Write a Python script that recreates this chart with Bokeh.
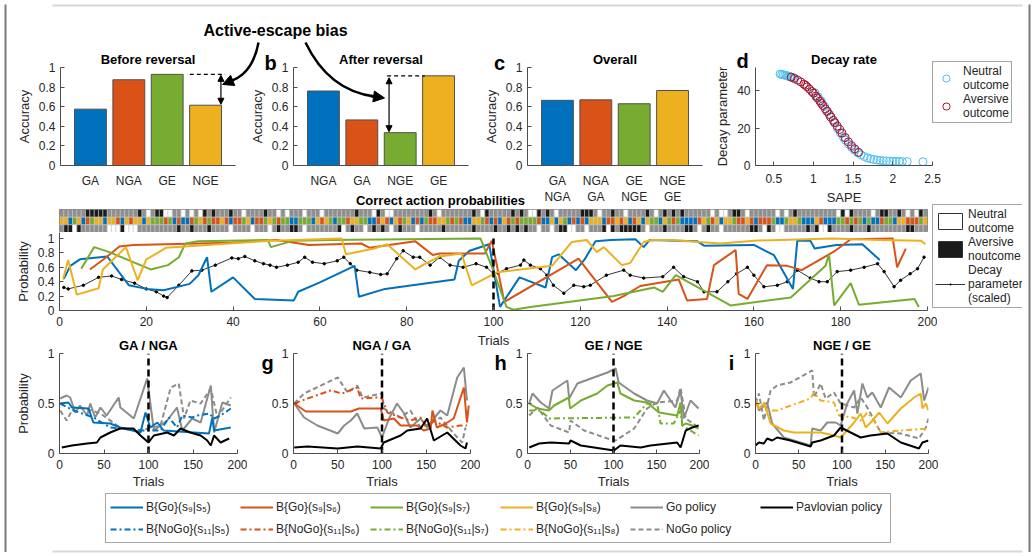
from bokeh.plotting import figure
from bokeh.models import (Range1d, FactorRange, Label, Legend, LegendItem, Arrow, PolyAnnotation,
                          NormalHead, FixedTicker, NumeralTickFormatter, Column)
from bokeh.embed import file_html
from bokeh.resources import INLINE

FONT = "Liberation Sans"
BLUE = "#0072BD"; RED = "#D95319"; YEL = "#EDB120"; GRN = "#77AC30"
LBLUE = "#4DBEEE"; DRED = "#A2142F"; GRAY = "#8c8c8c"
BAR_COLORS = [BLUE, RED, GRN, YEL]

# ---------------- data ----------------
cats_a = ["GA", "NGA", "GE", "NGE"]
acc_a = [0.575, 0.875, 0.93, 0.615]
cats_b = ["NGA", "GA", "NGE", "GE"]
acc_b = [0.76, 0.465, 0.335, 0.915]
cats_c = ["GA\nNGA", "NGA\nGA", "GE\nNGE", "NGE\nGE"]
acc_c = [0.665, 0.67, 0.63, 0.765]

sape_neutral = [0.58, 0.60, 0.62, 0.64, 0.66, 0.68, 0.70, 0.72, 0.74, 0.76, 1.02, 1.06, 1.10, 1.14,
                1.18, 1.22, 1.26, 1.30, 1.34, 1.38, 1.40, 1.44, 1.48, 1.52, 1.56, 1.60, 1.64, 1.68,
                1.72, 1.76, 1.80, 1.84, 1.88, 1.92, 1.96, 2.00, 2.04, 2.08, 2.12, 2.18, 2.38]
decay_neutral = [48.8, 48.6, 48.4, 48.2, 48.0, 47.7, 47.4, 47.1, 46.8, 46.4, 38.8, 36.6, 34.3, 31.6,
                 28.8, 25.8, 22.9, 20.0, 17.3, 14.8, 13.6, 11.5, 9.7, 8.1, 6.8, 5.7, 4.8, 4.1,
                 3.6, 3.2, 2.9, 2.7, 2.5, 2.4, 2.3, 2.2, 2.2, 2.1, 2.1, 2.1, 2.0]
sape_aversive = [0.72, 0.76, 0.80, 0.84, 0.88, 0.90, 0.92, 0.95, 0.98, 1.00, 1.03, 1.05, 1.08, 1.10,
                 1.12, 1.15, 1.17, 1.20, 1.22, 1.25, 1.27, 1.30, 1.33, 1.36, 1.40, 1.44, 1.48, 1.52, 1.57]
decay_aversive = [47.2, 46.5, 45.6, 44.6, 43.4, 42.8, 42.0, 40.8, 39.5, 38.6, 37.0, 36.0, 34.4, 33.2,
                  32.0, 30.2, 29.0, 27.2, 25.9, 24.1, 22.9, 21.0, 19.2, 17.3, 14.9, 12.6, 10.6, 8.9, 7.0]

reversal_trial = 100

# outcome / state strip (top: outcome, middle: state, bottom: outcome)
strip_top = ("ggggggkkkk" "kgggggggkg" "wgkkwwggwg" "wgwkgkgggk" "ggwggggkgg"
             "wgwgggwggg" "wgggggggkg" "ggwkgwwggg" "gggggkgwgg" "gggggkgwkg"
             "ggggkgkgww" "kgkgwggggg" "kkkgwggkgg" "wggggkgwgk" "gkgkgggggg"
             "wgwwgkkgwg" "gggggwgwgk" "gggggggggw" "kwkggggwgk" "kggkgwgwkg")
strip_mid = ("yybgybrgyy" "byyrbyryyb" "ygggrgbrbb" "rgyrgrryrb" "rrgybrrgyg"
             "rggbbgggby" "rygbggryyg" "gbbryrbyrg" "ybrbgrryyg" "rgrbbyygrb"
             "rbyrgrgggg" "rbbybygbrb" "rbyyybrryr" "ybrybyggby" "grgbbbbryg"
             "rybyygrryr" "brrrgbbgyy" "gbbbyrbbbg" "grgrgbgbbr" "ggbyyrrrgy")
strip_bot = ("gkkwkggggg" "gwwwkwwwgg" "gggggggkgg" "kgggkggggw" "ggggwgggwg"
             "kggkkgwggg" "ggggkwgkgg" "wgkgkgwgkg" "ggwgggggkg" "gggggkgggg"
             "kggkgkgkgg" "wggwgkkwwg" "gwgggkwkgk" "kkkkgwgggk" "ggggkkgwgk"
             "ggwggggggk" "kgwkgwwggg" "ggkgkwwkgg" "ggkgggkggg" "gggggkkggg")

e_go_s5 = [(1, 0.44), (2.5, 0.62), (4.7, 0.71), (11, 0.75), (16, 0.35), (20, 0.30), (24, 0.28),
           (30, 0.37), (32, 0.49), (34, 0.74), (35, 0.26), (40, 0.46), (45, 0.16), (54, 0.14),
           (55, 0.26), (60, 0.39), (68, 0.62), (69, 0.19), (75, 0.30), (91, 0.43), (92, 0.69),
           (94.5, 0.83), (99, 0.92), (101.5, 0.05), (106, 0.46), (112, 0.32), (113.5, 0.74),
           (115, 0.78), (119, 0.56), (121, 0.71), (123.5, 0.96), (127, 0.98), (132.7, 0.99),
           (134.6, 0.88), (136, 0.98), (147, 0.96), (148.5, 0.90), (160, 0.91), (164.6, 0.77),
           (169, 0.30), (170, 0.97), (173, 0.97), (174, 0.86), (179, 0.91), (185, 0.92), (189, 0.70)]
e_go_s6 = [(7, 0.57), (10.8, 0.74), (13.8, 0.89), (17, 0.91), (39.6, 0.94), (50, 0.98), (57.5, 0.91),
           (69.5, 0.93), (71.5, 0.87), (82, 0.96), (86, 0.77), (87.6, 0.79), (98, 0.79), (99.6, 0.97),
           (102.5, 0.12), (119.6, 0.72), (127.3, 0.12), (130, 0.20), (133.8, 0.34), (142.7, 0.43),
           (144.6, 0.14), (149.2, 0.16), (150.8, 0.63), (155.8, 0.84), (156.5, 0.23), (158.5, 0.16),
           (163, 0.63), (167.7, 0.62), (171, 0.56), (178.5, 0.82), (182.3, 0.99), (192, 1.0),
           (193, 0.60), (195, 0.86)]
e_go_s7 = [(5, 0.58), (8, 0.88), (11.5, 0.81), (21, 0.57), (25, 0.63), (27.5, 0.74), (29, 0.93),
           (32, 0.96), (48, 0.98), (48.7, 0.88), (54, 0.97), (62.5, 0.98), (97, 1.0), (99.8, 0.58),
           (103, 0.05), (104.6, 0.01), (108.5, 0.05), (127.7, 0.20), (137, 0.32), (139, 0.26),
           (142, 0.49), (154.6, 0.07), (168.5, 0.18), (176.5, 0.62), (177.3, 0.78), (178.5, 0.07),
           (182.3, 0.38), (184.2, 0.08), (197, 0.16), (198, 0.05)]
e_go_s8 = [(0.8, 0.43), (2, 0.70), (4, 0.22), (9, 0.31), (10, 0.57), (15.3, 0.88), (18, 0.42),
           (20, 0.71), (22.6, 0.80), (24.5, 0.87), (49, 0.97), (65, 1.0), (66, 0.78), (72.5, 0.86),
           (75.5, 0.92), (82, 0.57), (84, 0.64), (87.6, 0.75), (92.6, 0.79), (95, 0.35),
           (100.8, 0.53), (113.5, 0.62), (118, 0.95), (121.5, 0.98), (123.8, 0.81), (125.4, 0.88),
           (129.6, 0.63), (131.5, 0.66), (134.6, 0.95), (136.5, 0.98), (140.8, 0.98), (152.3, 0.93),
           (160, 0.97), (178, 1.0), (189, 0.98), (198.5, 0.97), (199.5, 0.92)]
e_decay = [(1, 0.32), (2, 0.30), (5.5, 0.35), (9, 0.46), (12, 0.48), (14.3, 0.43), (17.3, 0.38),
           (20, 0.30), (22.3, 0.26), (24, 0.20), (24.8, 0.18), (27.5, 0.35), (30.5, 0.55),
           (32.8, 0.56), (35.9, 0.63), (39.7, 0.73), (41.2, 0.72), (42.7, 0.75), (45, 0.69),
           (47, 0.65), (48.5, 0.63), (50, 0.60), (52.5, 0.63), (55, 0.67), (56.5, 0.74), (58.3, 0.67),
           (61, 0.65), (64, 0.69), (65.5, 0.74), (67, 0.65), (68.5, 0.56), (71.5, 0.53), (74, 0.50),
           (75.5, 0.51), (77.7, 0.72), (79.2, 0.83), (81.5, 0.74), (83, 0.74), (85.4, 0.63),
           (87.6, 0.74), (90, 0.63), (93, 0.60), (96, 0.65), (98.4, 0.60), (100, 0.51), (101, 0.52),
           (103, 0.58), (106.2, 0.63), (107, 0.70), (108.5, 0.63), (110.8, 0.58), (112.3, 0.49),
           (113.8, 0.35), (116.2, 0.24), (118.5, 0.35), (120.8, 0.33), (122.3, 0.35), (126, 0.49),
           (130, 0.56), (131.5, 0.49), (134.6, 0.45), (139, 0.47), (141.5, 0.60), (143.8, 0.47),
           (147, 0.40), (148.5, 0.26), (151.5, 0.26), (154, 0.40), (156, 0.51), (158.5, 0.60),
           (160, 0.49), (162.3, 0.33), (165.4, 0.35), (167.7, 0.40), (170, 0.56), (173, 0.45),
           (175, 0.40), (176.9, 0.40), (179.2, 0.54), (182.3, 0.56), (185.4, 0.60), (188.5, 0.65),
           (190, 0.54), (192.3, 0.33), (193.8, 0.42), (196, 0.51), (197.7, 0.58), (199.2, 0.74)]

f_pav = [(2.6, 0.06), (14, 0.08), (31, 0.10), (42, 0.11), (46, 0.16), (57, 0.21), (68, 0.25), (83, 0.25),
         (91, 0.18), (100, 0.11), (106, 0.18), (121, 0.21), (128.6, 0.18), (136, 0.25), (147, 0.21),
         (158.6, 0.18), (166, 0.13), (170, 0.08), (173.7, 0.18), (181, 0.11), (190.6, 0.15)]
f_go = [(0.8, 0.50), (10, 0.51), (14, 0.46), (32.7, 0.45), (38, 0.31), (57, 0.30), (68, 0.26), (91, 0.21),
        (96.6, 0.41), (102, 0.26), (110, 0.31), (117, 0.23), (151, 0.21), (168, 0.20), (171.8, 0.36),
        (173.7, 0.23), (192.5, 0.26)]
f_nogo = [(0.8, 0.50), (15.8, 0.43), (38, 0.36), (57, 0.26), (91, 0.23), (113.5, 0.23), (123, 0.36),
          (132, 0.26), (138, 0.38), (149, 0.36), (155, 0.38), (168, 0.40), (173.7, 0.35), (181, 0.38),
          (192.5, 0.45)]
f_gopol = [(0.8, 0.55), (8, 0.58), (12, 0.56), (17.7, 0.41), (23, 0.48), (31, 0.38), (34.6, 0.50),
           (40, 0.36), (46, 0.46), (53, 0.38), (66.5, 0.56), (68.4, 0.46), (83.5, 0.35), (98.5, 0.75),
           (106, 0.23), (121, 0.33), (132, 0.46), (138, 0.23), (149, 0.35), (158.6, 0.31), (170, 0.68),
           (173.7, 0.21), (183, 0.51), (192.5, 0.48)]
f_nogopol = [(0.8, 0.43), (8, 0.33), (16, 0.46), (29, 0.45), (46, 0.40), (68, 0.26), (91, 0.23),
             (113.5, 0.28), (125, 0.66), (134, 0.70), (140, 0.35), (147, 0.53), (158.6, 0.50),
             (170, 0.65), (177.4, 0.36), (192.5, 0.56)]

g_pav = [(0.8, 0.06), (15.8, 0.07), (50, 0.05), (72, 0.07), (98.5, 0.05), (102, 0.11), (121, 0.18),
         (128.6, 0.23), (143.6, 0.25), (151, 0.35), (158.6, 0.13), (173.7, 0.21), (188.7, 0.08),
         (194.4, 0.05), (196, 0.11)]
g_go = [(0.8, 0.50), (14, 0.42), (64.7, 0.42), (74, 0.45), (98.5, 0.45), (102, 0.33), (113.5, 0.35),
        (121, 0.28), (139.8, 0.28), (147, 0.23), (155, 0.25), (157, 0.43), (162, 0.26), (172, 0.30),
        (181, 0.35), (192.5, 0.66), (196, 0.31), (198, 0.48)]
g_nogo = [(0.8, 0.50), (15.8, 0.55), (42, 0.63), (55, 0.60), (72, 0.66), (76, 0.55), (94.7, 0.56),
          (100, 0.55), (106, 0.41), (121, 0.36), (132, 0.33), (143.6, 0.36), (151, 0.26), (158.6, 0.33),
          (173.7, 0.26), (188.7, 0.28), (196, 0.28)]
g_gopol = [(0.8, 0.50), (12, 0.36), (27, 0.28), (50, 0.20), (57.3, 0.28), (64.7, 0.33), (72, 0.40),
           (80, 0.25), (94.7, 0.26), (100, 0.16), (108, 0.35), (117, 0.50), (125, 0.40), (132, 0.26),
           (143.6, 0.35), (151, 0.26), (158.6, 0.35), (166, 0.43), (173.7, 0.38), (185, 0.76),
           (192.5, 0.86), (196, 0.53)]
g_nogopol = [(0.8, 0.50), (12, 0.60), (50, 0.76), (61, 0.61), (72, 0.68), (78.2, 0.56), (100, 0.60),
             (102, 0.45), (121, 0.36), (132, 0.43), (143.6, 0.26), (155, 0.30), (166, 0.36), (181, 0.20),
             (190.6, 0.11), (194.4, 0.26)]

h_pav = [(2, 0.06), (13.5, 0.10), (27, 0.11), (48.4, 0.10), (50, 0.13), (62, 0.08), (100.6, 0.03),
         (108, 0.08), (131.5, 0.06), (143, 0.08), (174, 0.11), (178, 0.06), (184, 0.23), (191.5, 0.26),
         (199, 0.28)]
h_go = [(2, 0.50), (11.6, 0.45), (25, 0.43), (31, 0.48), (48, 0.56), (49.5, 0.45), (62, 0.53), (81, 0.60),
        (93, 0.68), (104.5, 0.71), (108, 0.60), (124, 0.53), (139, 0.51), (152.8, 0.41), (174, 0.38),
        (178, 0.51), (180, 0.28), (184, 0.30), (191.5, 0.28), (199, 0.25)]
h_nogo = [(2, 0.43), (15.5, 0.43), (25, 0.35), (124, 0.36), (139, 0.50), (150.8, 0.50), (154.7, 0.30),
          (170, 0.30), (178, 0.43), (180, 0.28), (199, 0.18)]
h_gopol = [(2, 0.50), (5.8, 0.60), (15.5, 0.51), (25, 0.45), (29, 0.63), (46.4, 0.73), (48.4, 0.55),
           (58, 0.70), (77, 0.76), (93, 0.81), (102.5, 0.85), (106, 0.71), (124, 0.60), (139, 0.53),
           (150.8, 0.50), (158.6, 0.63), (172, 0.46), (178, 0.63), (181.8, 0.35), (189.5, 0.53),
           (199, 0.45)]
h_nogopol = [(2, 0.38), (11.6, 0.46), (27, 0.28), (48.4, 0.21), (50, 0.33), (65.8, 0.23), (93, 0.15),
             (102.5, 0.13), (124, 0.25), (139, 0.45), (150.8, 0.51), (174, 0.53), (178, 0.66),
             (184, 0.35), (199, 0.26)]

i_pav = [(0, 0.08), (3.9, 0.11), (9.7, 0.10), (13.5, 0.15), (19.3, 0.13), (25, 0.16), (40.5, 0.13),
         (63.7, 0.07), (65.6, 0.11), (75.3, 0.13), (90.7, 0.18), (98.5, 0.26), (110, 0.21), (121.6, 0.16),
         (133, 0.18), (152.5, 0.20), (168, 0.11), (189, 0.05), (193, 0.11), (200, 0.13)]
i_go = [(0, 0.50), (3.9, 0.45), (9.7, 0.50), (13.5, 0.41), (17.4, 0.30), (32.8, 0.23), (44.4, 0.21),
        (75.3, 0.21), (90.7, 0.18), (98.5, 0.16), (114, 0.31), (121.6, 0.40), (127.4, 0.26),
        (133.2, 0.31), (143, 0.41), (152.5, 0.30), (168, 0.45), (183.5, 0.56), (191, 0.60), (193, 0.45),
        (197, 0.50), (200, 0.43)]
i_nogo = [(0, 0.53), (5.8, 0.46), (9.7, 0.51), (13.5, 0.43), (25, 0.43), (63.7, 0.55), (67.6, 0.61),
          (75.3, 0.53), (90.7, 0.51), (96.5, 0.38), (112, 0.36), (121.6, 0.33), (129.3, 0.41), (137, 0.33),
          (144.8, 0.21), (168, 0.23), (200, 0.25)]
i_gopol = [(0, 0.56), (3.9, 0.43), (13.5, 0.51), (19.3, 0.30), (32.8, 0.16), (63.7, 0.08), (65.6, 0.25),
           (75.3, 0.23), (83, 0.31), (92.7, 0.31), (98.5, 0.28), (106, 0.50), (114, 0.63), (117.8, 0.40),
           (123.6, 0.70), (129.3, 0.56), (135, 0.61), (144.8, 0.46), (154.4, 0.66), (168, 0.56),
           (179.5, 0.73), (191, 0.80), (195, 0.53), (200, 0.66)]
i_nogopol = [(0, 0.50), (3.9, 0.60), (9.7, 0.33), (17.4, 0.63), (25, 0.68), (40.5, 0.71), (65.6, 0.83),
             (67.6, 0.56), (75.3, 0.70), (81, 0.55), (90.7, 0.61), (98.5, 0.50), (114, 0.46),
             (121.6, 0.56), (129.3, 0.46), (144.8, 0.21), (168, 0.20), (189, 0.15), (197, 0.26),
             (200, 0.35)]

legend_go = ["B{Go}(s\u2089|s\u2085)", "B{Go}(s\u2089|s\u2086)", "B{Go}(s\u2089|s\u2087)", "B{Go}(s\u2089|s\u2088)"]
legend_nogo = ["B{NoGo}(s\u2081\u2081|s\u2085)", "B{NoGo}(s\u2081\u2081|s\u2086)",
               "B{NoGo}(s\u2081\u2081|s\u2087)", "B{NoGo}(s\u2081\u2081|s\u2088)"]

# ---------------- helpers ----------------
DASHDOT = "6 3 2 3"
DASHED = "5 3"
ML, MR = 52, 10   # identical side borders for every figure (the column aligns them)
CW, CH = 1032, 554  # background canvas size (page pixels, origin at the page's top-left)
FRAME_COLOR = "#7a7a7a"


def xs(pairs):
    return [p[0] for p in pairs]


def ys(pairs):
    return [p[1] for p in pairs]


def mkfig(fx, fy, fw, fh, xr, yr, mt=28, mb=46, axes=True):
    kw = {}
    if not axes:
        kw = dict(x_axis_location=None, y_axis_location=None)
    p = figure(frame_width=fw, frame_height=fh, x_range=xr, y_range=yr,
               min_border_left=ML, min_border_right=MR, min_border_top=mt, min_border_bottom=mb,
               output_backend="svg", toolbar_location=None,
               background_fill_color=None, border_fill_color=None, outline_line_color=None, **kw)
    p.styles = {"position": "absolute", "left": f"{fx - ML}px", "top": f"{fy - mt}px"}
    p.grid.visible = False
    if axes:
        for ax in p.axis:
            ax.axis_line_color = "#4d4d4d"
            ax.major_tick_line_color = "#4d4d4d"
            ax.minor_tick_line_color = None
            ax.major_tick_in = 4
            ax.major_tick_out = 0
            ax.major_label_text_font = FONT
            ax.major_label_text_font_size = "12px"
            ax.major_label_text_color = "#262626"
            ax.axis_label_text_font = FONT
            ax.axis_label_text_font_size = "13px"
            ax.axis_label_text_font_style = "normal"
            ax.axis_label_text_color = "#262626"
            ax.axis_label_standoff = 4
    return p


def set_title(p, text):
    p.title.text = text
    p.title.align = "center"
    p.title.text_font = FONT
    p.title.text_font_size = "13px"
    p.title.text_font_style = "bold"
    p.title.text_color = "black"
    p.title.standoff = 2


# ---------------- background (in flow): texts, arrows, legends ----------------
FW = CW - ML - MR
bg = figure(frame_width=FW, frame_height=CH, x_range=Range1d(ML, ML + FW), y_range=Range1d(CH, 0),
            min_border_left=ML, min_border_right=MR, min_border_top=0, min_border_bottom=0,
            toolbar_location=None, output_backend="svg", x_axis_location=None, y_axis_location=None,
            outline_line_color=None, background_fill_color="white", border_fill_color="white")
bg.grid.visible = False
bg.add_layout(PolyAnnotation(xs=[5, 1029, 1029, 5], ys=[5, 5, 551, 551], fill_alpha=0,
                             line_color=FRAME_COLOR, line_width=2))


def txt(x, y, s, size="13px", bold=True):
    bg.add_layout(Label(x=x, y=y, text=s, text_font=FONT, text_font_size=size,
                        text_font_style="bold" if bold else "normal", text_align="center",
                        text_baseline="middle", text_color="black"))


txt(275, 30, "Active-escape bias", "16px")
for letter, lx, ly in [("a", 31, 62), ("b", 270, 62), ("c", 499, 62), ("d", 742, 60), ("e", 31, 211),
                       ("f", 31, 362), ("g", 267, 362), ("h", 500, 362), ("i", 731, 362)]:
    txt(lx, ly, letter, "20px")
txt(440, 200, "Correct action probabilities", "13px")

# curved arrows
bg.quadratic(x0=[258, 305], y0=[42, 42], x1=[229, 374], y1=[81, 96],
             cx=[252, 328], cy=[74, 90], line_color="black", line_width=2.5)
bg.add_layout(Arrow(end=NormalHead(size=11, fill_color="black", line_color="black"),
                    x_start=233, y_start=79.5, x_end=222, y_end=84, line_width=2.5))
bg.add_layout(Arrow(end=NormalHead(size=11, fill_color="black", line_color="black"),
                    x_start=370, y_start=95.5, x_end=384, y_end=97.5, line_width=2.5))

LEG = dict(label_text_font=FONT, label_text_font_size="12px", label_text_color="#262626",
           border_line_color="#4d4d4d", border_line_width=1, background_fill_color="white",
           margin=0)
OFF = [-50]  # legend-only renderers: a single point outside the visible range


def leg_loc(page_left, page_bottom):
    return (page_left - ML, CH - page_bottom)


# legend d
rn = bg.scatter(x=OFF, y=OFF, marker="circle", size=8, fill_color=None, line_color=LBLUE, line_width=1)
ra = bg.scatter(x=OFF, y=OFF, marker="circle", size=8, fill_color=None, line_color=DRED, line_width=1)
leg_d = Legend(items=[LegendItem(label="Neutral\noutcome", renderers=[rn]),
                      LegendItem(label="Aversive\noutcome", renderers=[ra])],
               location=leg_loc(932, 123), glyph_width=22, glyph_height=18, padding=2, spacing=0,
               label_standoff=6, label_height=12, **LEG)
bg.add_layout(leg_d)

# legend e
rw = bg.quad(left=OFF, right=OFF, top=OFF, bottom=OFF, fill_color="white", line_color="#333333")
rk = bg.quad(left=OFF, right=OFF, top=OFF, bottom=OFF, fill_color="#1a1a1a", line_color="#333333")
rl = bg.line(x=OFF, y=OFF, line_color="black", line_width=0.8)
rm = bg.scatter(x=OFF, y=OFF, marker="dot", size=10, color="black")
leg_e = Legend(items=[LegendItem(label="Neutral\noutcome", renderers=[rw]),
                      LegendItem(label="Aversive\nnoutcome", renderers=[rk]),
                      LegendItem(label="Decay\nparameter\n(scaled)", renderers=[rl, rm])],
               location=leg_loc(932, 308), glyph_width=30, glyph_height=20, padding=2, spacing=0,
               label_standoff=3, **LEG)
bg.add_layout(leg_e)

# bottom legend
items = []
for lab, col in zip(legend_go, BAR_COLORS):
    r = bg.line(x=OFF, y=OFF, line_color=col, line_width=2)
    items.append(LegendItem(label=lab, renderers=[r]))
r = bg.line(x=OFF, y=OFF, line_color=GRAY, line_width=2)
items.append(LegendItem(label="Go policy", renderers=[r]))
r = bg.line(x=OFF, y=OFF, line_color="black", line_width=2)
items.append(LegendItem(label="Pavlovian policy", renderers=[r]))
for lab, col in zip(legend_nogo, BAR_COLORS):
    r = bg.line(x=OFF, y=OFF, line_color=col, line_width=2, line_dash=DASHDOT)
    items.append(LegendItem(label=lab, renderers=[r]))
r = bg.line(x=OFF, y=OFF, line_color=GRAY, line_width=2, line_dash=DASHED)
items.append(LegendItem(label="NoGo policy", renderers=[r]))
leg_b = Legend(items=items, location=leg_loc(105, 543), orientation="horizontal", ncols=6,
               glyph_width=33, glyph_height=18, padding=4, spacing=4, label_standoff=3,
               label_width=90, **LEG)
bg.add_layout(leg_b)

figs = [bg]

# side edges of the outer frame: two thin frames filled with the frame colour
for edge_x in (4, 1028):
    edge = mkfig(edge_x, 4, 2, CH - 6, Range1d(0, 1), Range1d(0, 1), mt=0, mb=0, axes=False)
    edge.background_fill_color = FRAME_COLOR
    figs.append(edge)

# ---------------- bar panels a, b, c ----------------
def bar_panel(fx, cats, vals, title):
    p = mkfig(fx, 67, 175, 98, FactorRange(factors=cats, range_padding=0.14), Range1d(0, 1))
    p.vbar(x=cats, top=vals, width=0.83, fill_color=BAR_COLORS, line_color="#505050", line_width=1)
    p.yaxis.ticker = FixedTicker(ticks=[0, 0.2, 0.4, 0.6, 0.8, 1])
    p.yaxis.formatter = NumeralTickFormatter(format="0.[0]")
    p.yaxis.axis_label = "Accuracy"
    p.xaxis.major_tick_line_color = None
    p.xaxis.major_label_standoff = 8
    set_title(p, title)
    return p


pa = bar_panel(60, cats_a, acc_a, "Before reversal")
pa.line(x=[3.09, 4.01], y=[acc_a[2], acc_a[2]], line_color="black", line_dash="4 3", line_width=1.2)
pa.add_layout(Arrow(start=NormalHead(size=6, fill_color="black"), end=NormalHead(size=6, fill_color="black"),
                    x_start=3.9, y_start=acc_a[2] - 0.01, x_end=3.9, y_end=acc_a[3] + 0.01, line_width=1.2))
pb = bar_panel(293, cats_b, acc_b, "After reversal")
pb.line(x=[2.16, 3.14], y=[acc_b[3], acc_b[3]], line_color="black", line_dash="4 3", line_width=1.2)
pb.add_layout(Arrow(start=NormalHead(size=6, fill_color="black"), end=NormalHead(size=6, fill_color="black"),
                    x_start=2.21, y_start=acc_b[3] - 0.02, x_end=2.21, y_end=acc_b[2] + 0.01, line_width=1.2))
pc = bar_panel(527, cats_c, acc_c, "Overall")
figs += [pa, pb, pc]

# ---------------- panel d ----------------
pd_ = mkfig(755, 67, 177, 98, Range1d(0.27, 2.5), Range1d(0, 52.3))
pd_.scatter(sape_neutral, decay_neutral, marker="circle", size=8, fill_color=None, line_color=LBLUE, line_width=1)
pd_.scatter(sape_aversive, decay_aversive, marker="circle", size=8, fill_color=None, line_color=DRED, line_width=1)
pd_.xaxis.ticker = FixedTicker(ticks=[0.5, 1, 1.5, 2, 2.5])
pd_.xaxis.formatter = NumeralTickFormatter(format="0.[0]")
pd_.yaxis.ticker = FixedTicker(ticks=[0, 20, 40])
pd_.xaxis.axis_label = "SAPE"
pd_.yaxis.axis_label = "Decay parameter"
pd_.xaxis.major_label_standoff = 8
set_title(pd_, "Decay rate")
figs.append(pd_)

# ---------------- panel e ----------------
ps = mkfig(59, 209, 868, 23, Range1d(0, 200), Range1d(0, 3), mt=0, mb=0, axes=False)
ps.outline_line_color = "#6e6e6e"
CMAP = {"g": "#8f8f8f", "k": "#1a1a1a", "w": "#ffffff", "b": BLUE, "r": RED, "y": YEL}
CMAP_MID = {"g": GRN, "b": BLUE, "r": RED, "y": YEL}
trials = list(range(1, 201))
for codes, row, cmap in [(strip_top, 2, CMAP), (strip_mid, 1, CMAP_MID), (strip_bot, 0, CMAP)]:
    ps.quad(left=[t - 1 for t in trials], right=trials, bottom=[row] * 200, top=[row + 1] * 200,
            fill_color=[cmap[c] for c in codes], line_color="#c4c4c4", line_width=0.6)
figs.append(ps)

pe = mkfig(59, 232, 868, 78, Range1d(0, 200), Range1d(0, 1.083))
pe.xaxis.ticker = FixedTicker(ticks=list(range(0, 201, 20)))
pe.yaxis.ticker = FixedTicker(ticks=[0, 0.2, 0.4, 0.6, 0.8, 1])
pe.yaxis.formatter = NumeralTickFormatter(format="0.[0]")
pe.xaxis.axis_label = "Trials"
pe.yaxis.axis_label = "Probability"
pe.xaxis.major_label_standoff = 6
pe.xaxis.axis_label_standoff = 4
pe.line(xs(e_decay), ys(e_decay), line_color="black", line_width=0.8)
pe.scatter(xs(e_decay), ys(e_decay), marker="circle", size=2.5, color="black")
for ser, col in [(e_go_s5, BLUE), (e_go_s6, RED), (e_go_s7, GRN), (e_go_s8, YEL)]:
    pe.line(xs(ser), ys(ser), line_color=col, line_width=2)
pe.line([reversal_trial, reversal_trial], [0, 1], line_color="black", line_width=2.5, line_dash="7 4")
figs.append(pe)

# ---------------- panels f-i ----------------
def traj_panel(fx, fw, title, col, go, nogo, gopol, nogopol, pav, ylabel=None):
    p = mkfig(fx, 353, fw, 100, Range1d(0, 200), Range1d(0, 1))
    p.xaxis.ticker = FixedTicker(ticks=[0, 50, 100, 150, 200])
    p.yaxis.ticker = FixedTicker(ticks=[0, 0.5, 1])
    p.yaxis.formatter = NumeralTickFormatter(format="0.[0]")
    p.xaxis.axis_label = "Trials"
    p.xaxis.major_label_standoff = 6
    p.xaxis.axis_label_standoff = 2
    if ylabel:
        p.yaxis.axis_label = ylabel
    p.line(xs(nogopol), ys(nogopol), line_color=GRAY, line_width=2, line_dash=DASHED)
    p.line(xs(gopol), ys(gopol), line_color=GRAY, line_width=2)
    p.line(xs(nogo), ys(nogo), line_color=col, line_width=2, line_dash=DASHDOT)
    p.line(xs(go), ys(go), line_color=col, line_width=2)
    p.line(xs(pav), ys(pav), line_color="black", line_width=2)
    p.line([reversal_trial, reversal_trial], [0, 1], line_color="black", line_width=2.5, line_dash="7 4")
    set_title(p, title)
    return p


figs.append(traj_panel(59, 178, "GA / NGA", BLUE, f_go, f_nogo, f_gopol, f_nogopol, f_pav, "Probability"))
figs.append(traj_panel(293, 177, "NGA / GA", RED, g_go, g_nogo, g_gopol, g_nogopol, g_pav))
figs.append(traj_panel(527, 172, "GE / NGE", GRN, h_go, h_nogo, h_gopol, h_nogopol, h_pav))
figs.append(traj_panel(755, 173, "NGE / GE", YEL, i_go, i_nogo, i_gopol, i_nogopol, i_pav))

root = Column(children=figs)
root.styles = {"overflow": "hidden"}
open("out.html", "w").write(file_html(root, INLINE))
